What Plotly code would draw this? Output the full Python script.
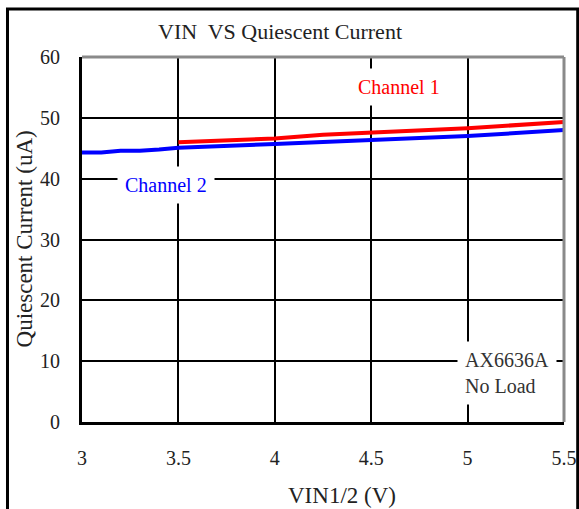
import plotly.graph_objects as go

# Data
ch1_vin = [3.5, 4.0, 4.25, 4.5, 5.0, 5.5]
ch1_iq = [46.0, 46.6, 47.2, 47.6, 48.3, 49.3]
ch2_vin = [3.0, 3.1, 3.2, 3.3, 3.4, 3.5, 4.0, 4.5, 5.0, 5.5]
ch2_iq = [44.3, 44.3, 44.6, 44.6, 44.8, 45.1, 45.7, 46.3, 47.0, 48.0]
x_ticks = [3, 3.5, 4, 4.5, 5, 5.5]
x_labels = ["3", "3.5", "4", "4.5", "5", "5.5"]
y_ticks = [0, 10, 20, 30, 40, 50, 60]

SX = 589 / 579.0  # horizontal compensation
W, H = 589, 509
L = round(81 * SX)
R = W - round(563 * SX)
T, B = 57, 87
pw, ph = W - L - R, H - T - B

def px(xp):
    return (xp * SX - L) / pw

def py(yp):
    return (H - B - yp) / ph

FONT = "Liberation Serif, Times New Roman, serif"
TXT = "#222222"

fig = go.Figure()
fig.add_trace(go.Scatter(x=ch2_vin, y=ch2_iq, mode="lines",
                         line=dict(color="#0000ff", width=4), name="Channel 2"))
fig.add_trace(go.Scatter(x=ch1_vin, y=ch1_iq, mode="lines",
                         line=dict(color="#ff0000", width=4), name="Channel 1"))

fig.update_layout(
    width=W, height=H, autosize=False,
    margin=dict(l=L, r=R, t=T, b=B),
    paper_bgcolor="white", plot_bgcolor="white",
    showlegend=False,
    font=dict(family=FONT, size=20, color=TXT),
)
fig.update_xaxes(range=[3, 5.5], tickvals=x_ticks, ticktext=x_labels,
                 showgrid=True, gridcolor="black", gridwidth=2,
                 showline=True, linecolor="black", linewidth=3,
                 zeroline=False, ticks="", ticklabelstandoff=16,
                 tickfont=dict(family=FONT, size=20, color=TXT))
fig.update_yaxes(range=[0, 60], tickvals=y_ticks,
                 showgrid=True, gridcolor="black", gridwidth=2,
                 showline=True, linecolor="black", linewidth=3,
                 zeroline=False, ticks="", ticklabelstandoff=15,
                 tickfont=dict(family=FONT, size=20, color=TXT))

shapes = [
    dict(type="line", xref="paper", yref="paper", x0=0, x1=1, y0=1, y1=1,
         line=dict(color="#8a8a8a", width=3)),
    dict(type="line", xref="paper", yref="paper", x0=1, x1=1, y0=0, y1=1,
         line=dict(color="#8a8a8a", width=3)),
    dict(type="rect", xref="paper", yref="paper",
         x0=px(6), x1=px(577), y0=py(530), y1=py(9),
         line=dict(color="black", width=3), fillcolor="rgba(0,0,0,0)"),
]
fig.update_layout(shapes=shapes)

C = dict(xanchor="center", yanchor="middle", showarrow=False)
ann = [
    dict(text="VIN  VS Quiescent Current", xref="paper", yref="paper",
         x=px(279), y=py(31), font=dict(family=FONT, size=22, color=TXT), **C),
    dict(text="Quiescent Current (uA)", xref="paper", yref="paper",
         x=px(24), y=py(239), textangle=-90,
         font=dict(family=FONT, size=23, color=TXT), **C),
    dict(text="VIN1/2 (V)", xref="paper", yref="paper",
         x=px(341), y=py(495), font=dict(family=FONT, size=23, color=TXT), **C),
    dict(text="Channel 1", x=4.644, y=55.0, bgcolor="white", borderpad=7,
         font=dict(family=FONT, size=20, color="#ff0000"), **C),
    dict(text="Channel 2", x=3.436, y=39.0, bgcolor="white", borderpad=7,
         font=dict(family=FONT, size=20, color="#0000ff"), **C),
    dict(text="AX6636A<br>No Load", x=5.204, y=8.05, align="left",
         bgcolor="white", borderpad=7,
         font=dict(family=FONT, size=20, color="#333333"), **C),
]
fig.update_layout(annotations=ann)

fig.write_html(
    "out.html",
    config={"displayModeBar": False, "responsive": False},
    post_script="document.body.style.margin='0';document.body.style.overflow='hidden';",
)
